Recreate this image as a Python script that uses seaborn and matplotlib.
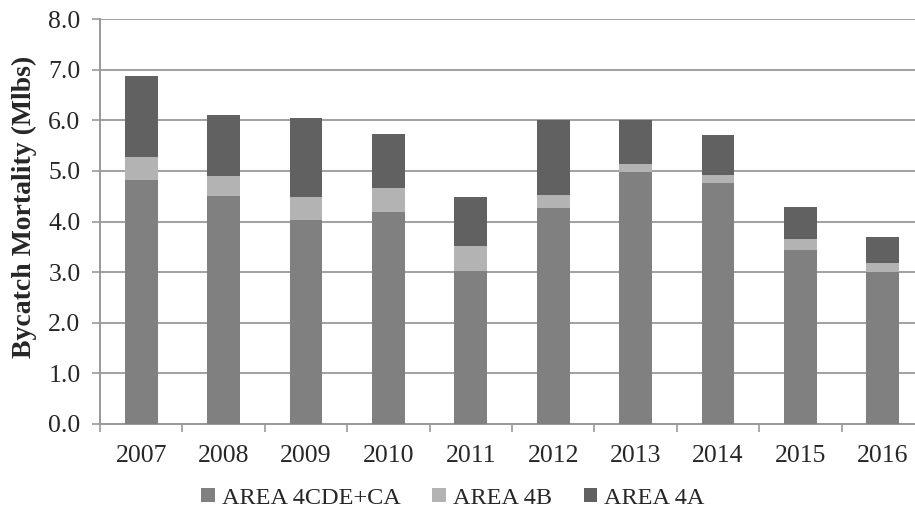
import numpy as np
import pandas as pd
import matplotlib
matplotlib.use('Agg')
import matplotlib.pyplot as plt
import seaborn as sns
from matplotlib.patches import Patch
from matplotlib.ticker import FixedLocator

years = ['2007', '2008', '2009', '2010', '2011', '2012', '2013', '2014', '2015', '2016']
area_4cde_ca = [4.81, 4.51, 4.02, 4.18, 3.02, 4.26, 4.97, 4.77, 3.43, 3.01]
area_4b = [0.47, 0.38, 0.47, 0.49, 0.50, 0.27, 0.16, 0.14, 0.23, 0.17]
area_4a = [1.60, 1.22, 1.55, 1.05, 0.96, 1.47, 0.87, 0.80, 0.63, 0.52]

series_names = ['AREA 4CDE+CA', 'AREA 4B', 'AREA 4A']
series_colors = ['#808080', '#b3b3b3', '#616161']

sns.set_style('white')
plt.rcParams['font.family'] = ['Liberation Serif', 'DejaVu Serif']

df = pd.DataFrame({'year': years, 'cde': area_4cde_ca, 'b': area_4b, 'a': area_4a})
# stacked bars: draw cumulative totals from the top layer down
df['lvl1'] = df['cde']
df['lvl2'] = df['cde'] + df['b']
df['lvl3'] = df['lvl2'] + df['a']

fig = plt.figure(figsize=(9.15, 5.2), dpi=100)
ax = fig.add_axes([100 / 915, 96 / 520, 824 / 915, 405 / 520])

for col, color in zip(['lvl3', 'lvl2', 'lvl1'], series_colors[::-1]):
    sns.barplot(data=df, x='year', y=col, color=color, width=0.40,
                saturation=1, ax=ax, zorder=3, edgecolor='none', linewidth=0)

ax.set_xlim(-0.5, 9.5)
ax.set_ylim(0, 8)
ax.set_yticks(np.arange(0, 8.01, 1.0))
ax.set_yticklabels([f'{v:.1f}' for v in np.arange(0, 8.01, 1.0)])
ax.yaxis.grid(True, color='#a0a0a0', linewidth=1.4, zorder=0)
ax.set_axisbelow(True)

for side in ['top', 'right']:
    ax.spines[side].set_visible(False)
for side in ['left', 'bottom']:
    ax.spines[side].set_color('#999999')
    ax.spines[side].set_linewidth(1.4)

ax.tick_params(axis='y', direction='out', length=6, width=1.2, color='#999999',
               labelsize=18.5, pad=8, left=True)
ax.tick_params(axis='x', which='major', length=0, labelsize=18.5, pad=15)
ax.xaxis.set_minor_locator(FixedLocator(np.arange(-0.5, 10, 1.0)))
ax.tick_params(axis='x', which='minor', direction='out', length=6, width=1.2,
               color='#999999', bottom=True)

ax.set_xlabel('')
ax.set_ylabel('Bycatch Mortality (Mlbs)', fontsize=20, fontweight='bold')
ax.yaxis.set_label_coords(-0.076, 0.535)

handles = [Patch(facecolor=c, edgecolor='none') for c in series_colors]
fig.legend(handles, series_names, loc='center', bbox_to_anchor=(0.495, 1 - 498 / 520),
           ncol=3, frameon=False, fontsize=17.5, handlelength=0.55, handleheight=0.55,
           handletextpad=0.3, columnspacing=1.3, borderpad=0, bbox_transform=fig.transFigure)

fig.savefig('out.png', dpi=100)
